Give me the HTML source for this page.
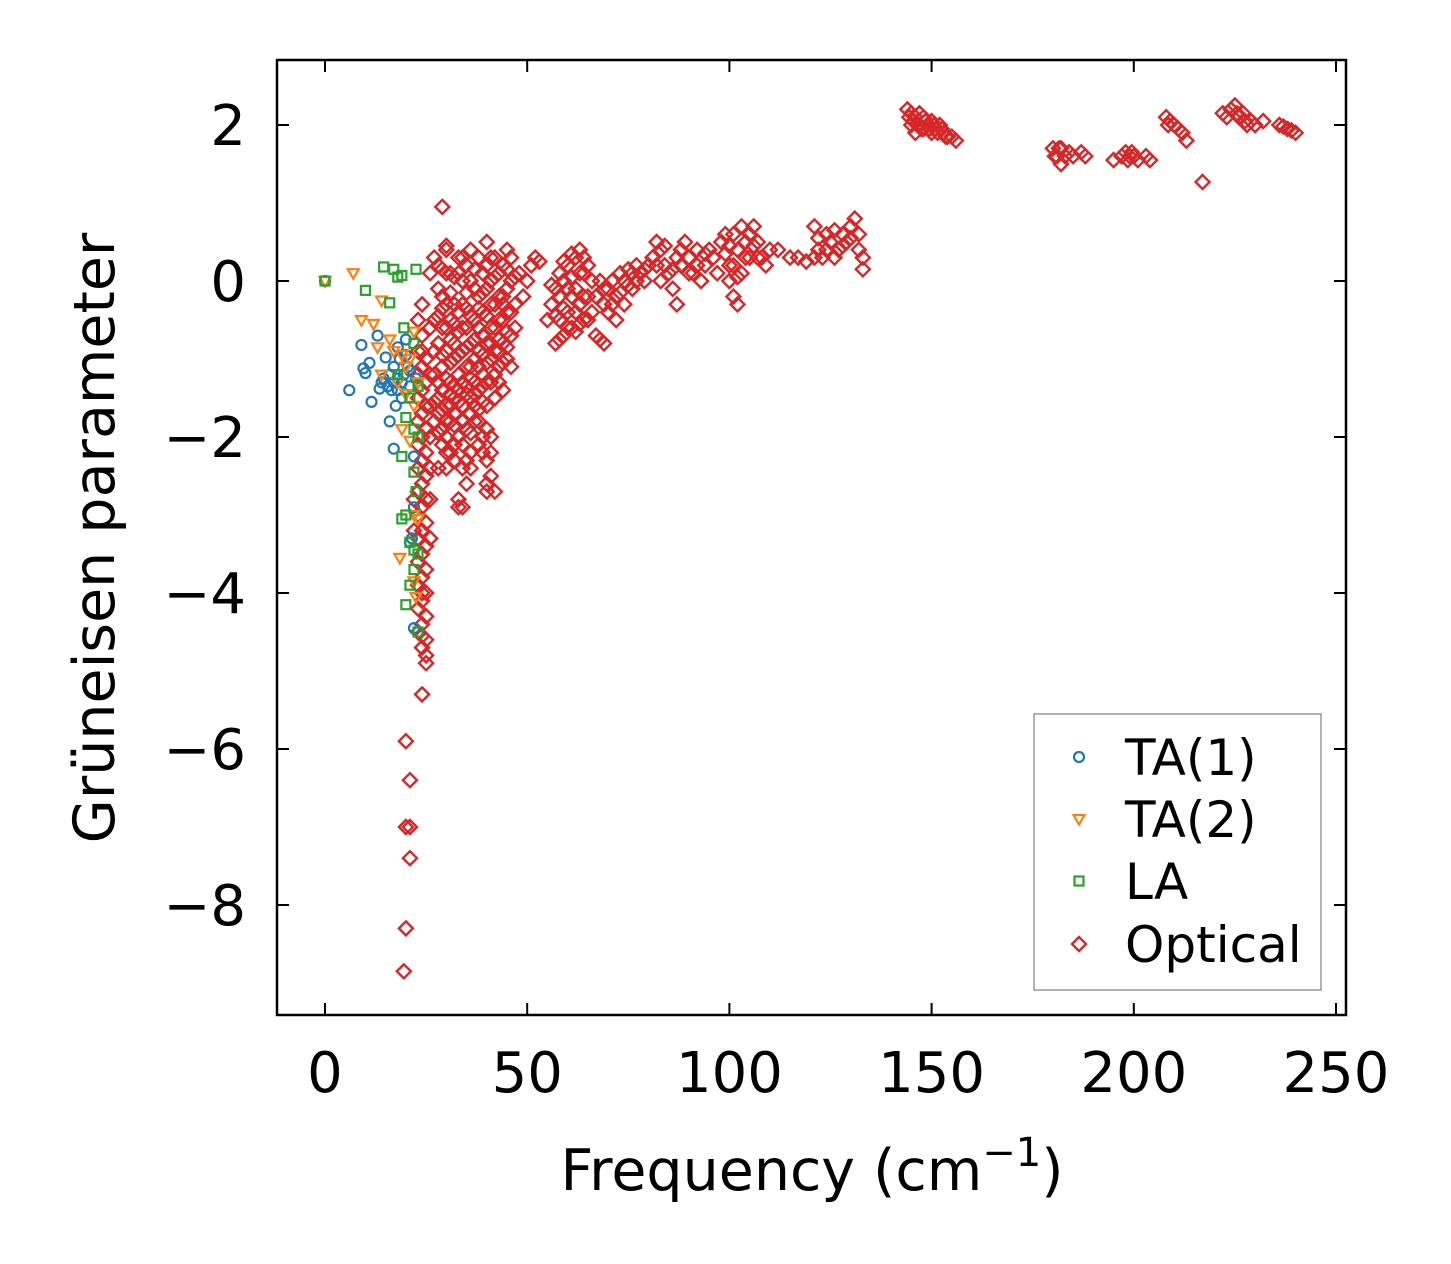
<!DOCTYPE html>
<html><head><meta charset="utf-8">
<style>
html,body{margin:0;padding:0;background:#fff;}
svg{display:block;font-family:"DejaVu Sans","Liberation Sans",sans-serif;}
</style></head>
<body>
<svg id="chart" width="1451" height="1264" viewBox="0 0 1451 1264" xmlns="http://www.w3.org/2000/svg">
<rect x="0" y="0" width="1451" height="1264" fill="#fff"/>
<g id="marks"></g>
<g id="axes"></g>
</svg>
<script>
const xTicks = [0, 50, 100, 150, 200, 250];
const yTicks = [2, 0, -2, -4, -6, -8];
const xTickLabels = ["0", "50", "100", "150", "200", "250"];
const yTickLabels = ["2", "0", "\u22122", "\u22124", "\u22126", "\u22128"];
const seriesNames = ["TA(1)", "TA(2)", "LA", "Optical"];

const ta1Points = [[0,0],[6,-1.4],[9,-0.82],[9.5,-1.12],[10,-1.18],[11,-1.05],[11.5,-1.55],[13,-0.7],[13.5,-1.38],[14,-1.3],[14.5,-1.25],[15,-0.98],[15.5,-1.35],[16,-1.8],[16.5,-1.4],[17,-2.15],[17,-1.1],[17.5,-1.6],[18,-0.85],[18,-1.25],[18.5,-1.0],[19,-1.5],[19,-1.3],[19.5,-1.2],[20,-0.75],[20,-0.95],[20.5,-1.1],[21,-1.35],[21,-3.35],[21.5,-3.3],[22,-2.9],[22,-4.45],[22.5,-1.25],[22,-2.25],[21,-1.15],[17,-1.3],[18,-1.4],[16,-1.2]];
const ta2Points = [[0,0],[7,0.1],[9,-0.5],[12,-0.55],[13,-0.85],[14,-0.25],[14,-1.2],[16,-0.75],[17,-0.9],[18,-1.3],[19,-1.9],[20,-1.45],[21,-2.05],[22,-0.65],[22,-1.6],[22,-3.0],[18.5,-3.55],[22,-3.85],[22.5,-4.05],[23,-3.05],[23,-1.3],[21,-1.0],[20,-1.1],[19,-0.95]];
const laPoints = [[0,0],[10,-0.12],[14.5,0.18],[16,-0.28],[17,0.15],[18,0.05],[19,0.07],[22.5,0.15],[19.5,-0.6],[18,-1.2],[21,-1.5],[20,-1.75],[22,-1.9],[23,-2.0],[19,-2.25],[22,-2.45],[22.5,-2.7],[19,-3.05],[20,-3.0],[21,-3.35],[22,-3.45],[23,-3.5],[22,-3.7],[21,-3.9],[20,-4.15],[23,-4.5],[23,-1.35],[22,-0.8]];
const opticalPoints = [
[23,-0.5],[24,-0.7],[23,-0.9],[24,-1.1],[25,-1.3],[23,-1.5],[24,-1.7],[25,-1.9],[23,-2.1],[24,-2.3],[25,-2.5],[23,-2.7],[24,-2.9],[25,-3.1],[23,-3.3],[24,-3.5],[25,-3.7],[23,-3.9],[24,-4.1],[25,-4.3],[23,-4.5],[24,-4.7],[25,-4.8],[24,-4.4],[23,-4.2],[25,-3.4],[24,-3.2],[23,-2.4],[25,-2.2],[24,-2.0],[22,-2.8],[22,-3.2],[25,-1.0],[24,-0.3],[26,-1.6],[26,-2.8],[26,-3.3],[26,-0.6],[24,-4.0],[23,-3.6],[25,-2.8],[23,-1.8],
[24,-0.9],[24,-1.4],[24,-2.6],[24,-3.8],[24,-4.55],[23,-3.0],[25,-4.0],[25,-1.6],[26,-2.0],[26,-2.4],[26,-1.2],[23,-1.2],[25,-4.6],
[27,0.3],[28,0.2],[29,-0.2],[30,0.4],[31,0.1],[32,-0.3],[33,0.3],[34,0.0],[35,0.2],[36,0.4],[37,-0.1],[38,0.3],[39,0.1],[40,0.2],[41,0.0],[42,0.3],[43,0.1],[44,0.2],[45,-0.1],
[27,-0.5],[29,-0.6],[31,-0.5],[33,-0.4],[35,-0.6],[37,-0.5],[39,-0.4],[41,-0.6],[43,-0.5],[45,-0.4],[28,-0.8],[30,-0.9],[32,-0.8],[34,-0.9],[36,-0.8],[38,-0.9],[40,-0.8],[42,-0.9],[44,-0.8],[46,-0.7],
[27,-1.2],[29,-1.1],[31,-1.3],[33,-1.2],[35,-1.1],[37,-1.3],[39,-1.2],[41,-1.0],[43,-1.1],[45,-1.0],
[28,-1.5],[30,-1.6],[32,-1.5],[34,-1.6],[36,-1.5],[38,-1.4],[40,-1.3],
[27,-1.8],[29,-1.9],[31,-1.8],[33,-2.0],[35,-1.9],[37,-1.8],[39,-2.0],[41,-2.0],
[30,-2.2],[32,-2.3],[34,-2.4],[36,-2.2],[40,-2.3],[41,-2.5],[42,-2.7],[40,-2.6],[33,-2.8],[34,-2.9],[35,-2.6],[38,-2.1],[28,-2.4],
[26,0.1],[30,-0.3],[34,-0.3],[38,-0.6],[42,-0.3],[44,-0.5],[46,0.0],[47,-0.3],[48,0.1],[49,-0.2],[50,0.0],[51,0.2],[52,0.3],[53,0.25],[47,-0.6],[46,-1.1],[44,-1.4],[42,-1.5],[36,-1.1],[32,-1.0],
[28,-0.1],[30,0.1],[32,0.05],[34,0.3],[36,0.0],[38,-0.2],[40,-0.1],[42,0.05],[44,-0.2],[46,0.3],
[27,-0.9],[29,-0.35],[31,-0.75],[33,-0.65],[35,-0.35],[37,-0.75],[39,-0.7],[41,-0.3],[43,-0.75],[45,-0.65],
[28,-1.3],[30,-1.25],[32,-1.35],[34,-1.3],[36,-1.25],[38,-1.1],[40,-1.05],[42,-1.2],[44,-1.05],
[27,-1.55],[29,-1.65],[31,-1.6],[33,-1.55],[35,-1.45],[37,-1.6],[39,-1.55],
[28,-1.95],[30,-2.0],[32,-1.85],[34,-2.1],[36,-1.95],[38,-1.8],[40,-1.9],[31,-2.2],[29,-2.1],
[29,0.15],[31,-0.15],[33,0.1],[35,-0.15],[37,0.15],[39,-0.15],[41,0.3],[43,-0.2],[45,0.15],[47,0.05],
[28,-0.45],[30,-0.6],[32,-0.55],[34,-0.6],[36,-0.45],[38,-0.35],[40,-0.45],[42,-0.6],[44,-0.3],[46,-0.4],
[29,-0.95],[31,-1.05],[33,-0.95],[35,-0.85],[37,-1.0],[39,-0.95],[41,-0.8],[43,-0.9],[45,-0.85],
[29,-1.4],[31,-1.45],[33,-1.4],[35,-1.35],[37,-1.45],[39,-1.35],[41,-1.3],[43,-1.3],
[28,-1.7],[30,-1.8],[32,-1.7],[34,-1.8],[36,-1.7],[38,-1.65],[40,-1.6],
[30,-2.4],[32,-2.1],[36,-2.4],[39,-2.2],[41,-2.2],[35,-2.3],
[57,-0.8],[58,-0.5],[58,-0.2],[59,0.0],[60,-0.4],[60,0.2],[61,-0.6],[62,0.3],[62,-0.1],[63,0.4],[63,-0.3],[64,-0.5],[64,0.1],[65,0.2],[65,-0.2],[66,-0.4],[57,-0.1],[56,-0.3],[55,-0.5],[59,-0.7],[61,-0.2],[67,-0.7],[68,-0.75],[69,-0.8],[58,0.1],[60,-0.1],[62,-0.4],[64,-0.2],
[57,-0.45],[58,-0.75],[59,-0.35],[60,-0.6],[61,0.05],[62,-0.65],[63,0.1],[64,0.3],[65,-0.5],[66,0.0],[56,-0.05],[59,0.25],[61,0.35],[63,-0.55],
[67,-0.2],[68,0.0],[69,-0.3],[70,-0.1],[71,0.0],[72,-0.2],[73,0.1],[74,0.0],[75,0.15],[76,-0.1],[77,0.2],[78,0.1],[79,0.0],[80,0.2],[70,-0.4],[72,-0.5],[74,-0.3],[76,0.1],
[71,-0.3],[73,-0.15],[75,-0.05],[77,0.0],[79,0.15],[69,-0.1],
[81,0.3],[82,0.5],[83,0.4],[83,0.0],[84,0.2],[85,0.1],[86,-0.1],[87,-0.3],[87,0.3],[88,0.2],[89,0.5],[90,0.3],[91,0.1],[92,0.4],[93,0.0],[94,0.2],[95,0.4],
[82,0.2],[84,0.45],[86,0.15],[88,0.4],[90,0.1],[92,0.2],[94,0.35],
[96,0.3],[97,0.1],[98,0.5],[99,0.6],[100,0.2],[100,0.0],[101,-0.2],[102,-0.3],[102,0.4],[103,0.7],[104,0.5],[105,0.3],[106,0.7],[107,0.5],[103,0.1],[101,0.6],[108,0.3],[109,0.2],[110,0.4],
[99,0.35],[100,0.45],[101,0.2],[102,0.05],[104,0.3],[105,0.6],[106,0.45],[107,0.3],
[112,0.4],[115,0.3],[117,0.3],[119,0.25],[121,0.7],[122,0.4],[123,0.3],[124,0.6],[125,0.5],[126,0.65],[127,0.4],[128,0.6],[129,0.5],[130,0.7],[131,0.8],[132,0.4],[133,0.15],[133,0.3],[126,0.3],
[122,0.55],[124,0.4],[128,0.45],[130,0.55],[132,0.6],[121,0.3],
[144,2.2],[145,2.15],[146,2.1],[146,1.9],[147,2.0],[148,2.1],[148,1.95],[149,2.0],[150,2.05],[150,1.9],[151,1.95],[152,2.0],[153,1.9],[154,1.85],[155,1.85],[156,1.8],[145,2.0],[147,2.15],
[144.5,2.1],[145.5,2.05],[146.5,2.0],[147.5,1.95],[148.5,2.05],[149.5,1.95],[150.5,2.0],[151.5,1.9],[152.5,1.95],[153.5,1.85],
[180,1.7],[181,1.6],[182,1.5],[182,1.7],[183,1.6],[184,1.65],[185,1.6],[187,1.65],[188,1.6],[180.5,1.6],[181.5,1.7],
[195,1.55],[197,1.6],[198,1.65],[199,1.6],[200,1.6],[201,1.55],[203,1.6],[204,1.55],[198.5,1.55],[199.5,1.65],
[208,2.1],[209,2.05],[210,2.0],[211,1.95],[212,1.9],[213,1.8],[217,1.27],[208.5,2.0],
[222,2.15],[224,2.2],[225,2.25],[226,2.1],[227,2.15],[228,2.0],[229,2.05],[230,2.0],[232,2.05],[223,2.1],[225.5,2.15],[227.5,2.05],
[236,2.0],[238,1.95],[240,1.9],[237,1.98],[239,1.93],
[20,-5.9],[21,-6.4],[20,-7.0],[21,-7.0],[21,-7.4],[20,-8.3],[19.5,-8.85],[24,-5.3],[25,-4.9],[29,0.95],[30,0.45],[40,0.5],[45,0.4],[42,-1.5],[33,-2.9],[40,-2.7]
];

const colors = ["#1f77b4", "#ff7f0e", "#2ca02c", "#d62728"];
const NS = "http://www.w3.org/2000/svg";
const L = 277, R = 1346, T = 60, B = 1015;
function xs(v){ return 325 + v * (1336 - 325) / 250; }
function ys(v){ return 281 - v * 78; }
const marks = document.getElementById('marks');
const axes = document.getElementById('axes');

function mk(tag, attrs, parent){
  const e = document.createElementNS(NS, tag);
  for (const k in attrs) e.setAttribute(k, attrs[k]);
  parent.appendChild(e);
  return e;
}
function marker(kind, cx, cy, color, parent){
  let e;
  if (kind === 0) e = mk('circle', {cx: cx, cy: cy, r: 5, fill: 'none', stroke: color, 'stroke-width': 2.2}, parent);
  else if (kind === 1) e = mk('polygon', {points: `${cx-5.5},${cy-4} ${cx+5.5},${cy-4} ${cx},${cy+5.5}`, fill: 'none', stroke: color, 'stroke-width': 2.2}, parent);
  else if (kind === 2) e = mk('rect', {x: cx-4.5, y: cy-4.5, width: 9, height: 9, fill: 'none', stroke: color, 'stroke-width': 2.2}, parent);
  else e = mk('polygon', {points: `${cx},${cy-7} ${cx+7},${cy} ${cx},${cy+7} ${cx-7},${cy}`, fill: 'none', stroke: color, 'stroke-width': 2.4}, parent);
  return e;
}
const allSeries = [ta1Points, ta2Points, laPoints, opticalPoints];
const seriesKeys = ["ta1", "ta2", "la", "optical"];
[3, 0, 1, 2].forEach(function(si){
  const g = mk('g', {}, marks);
  
  
  allSeries[si].forEach(function(p){
    const m = marker(si, xs(p[0]), ys(p[1]), colors[si], g);
    
    
  });
});

const frame = mk('rect', {x: L, y: T, width: R-L, height: B-T, fill: 'none', stroke: '#000', 'stroke-width': 2.5}, axes);



xTicks.forEach(function(v, i){
  const x = xs(v);
  const t1 = mk('line', {x1: x, y1: B, x2: x, y2: B-12, stroke: '#000', 'stroke-width': 2}, axes);
  
  
  const t2 = mk('line', {x1: x, y1: T, x2: x, y2: T+12, stroke: '#000', 'stroke-width': 2}, axes);
  
  
  const lab = mk('text', {x: x, y: 1092, 'text-anchor': 'middle', 'font-size': 56, fill: '#000'}, axes);
  lab.textContent = xTickLabels[i];
  
  
});
yTicks.forEach(function(v, i){
  const y = ys(v);
  const t1 = mk('line', {x1: L, y1: y, x2: L+12, y2: y, stroke: '#000', 'stroke-width': 2}, axes);
  
  
  const t2 = mk('line', {x1: R, y1: y, x2: R-12, y2: y, stroke: '#000', 'stroke-width': 2}, axes);
  
  
  const lab = mk('text', {x: 246, y: y + 20, 'text-anchor': 'end', 'font-size': 56, fill: '#000'}, axes);
  lab.textContent = yTickLabels[i];
  
  
});

const xt = mk('text', {x: 812, y: 1190, 'text-anchor': 'middle', 'font-size': 57, fill: '#000'}, axes);


xt.innerHTML = 'Frequency (cm<tspan dy="-24" font-size="40">\u22121</tspan><tspan dy="24">)</tspan>';

const yt = mk('text', {x: 0, y: 0, 'text-anchor': 'middle', 'font-size': 57, fill: '#000', transform: 'translate(114,538) rotate(-90)'}, axes);
yt.textContent = 'Grüneisen parameter';



const lg = mk('g', {}, axes);


mk('rect', {x: 1034, y: 714, width: 287, height: 276, fill: '#fff', stroke: '#999', 'stroke-width': 1.5}, lg);
const legendY = [757, 819, 881, 944];
seriesNames.forEach(function(n, i){
  const eg = mk('g', {}, lg);
  
  
  marker(i, 1079, legendY[i], colors[i], eg);
  const t = mk('text', {x: 1125, y: legendY[i] + 18, 'font-size': 50, fill: '#000'}, eg);
  t.textContent = n;
});
</script>
</body></html>
